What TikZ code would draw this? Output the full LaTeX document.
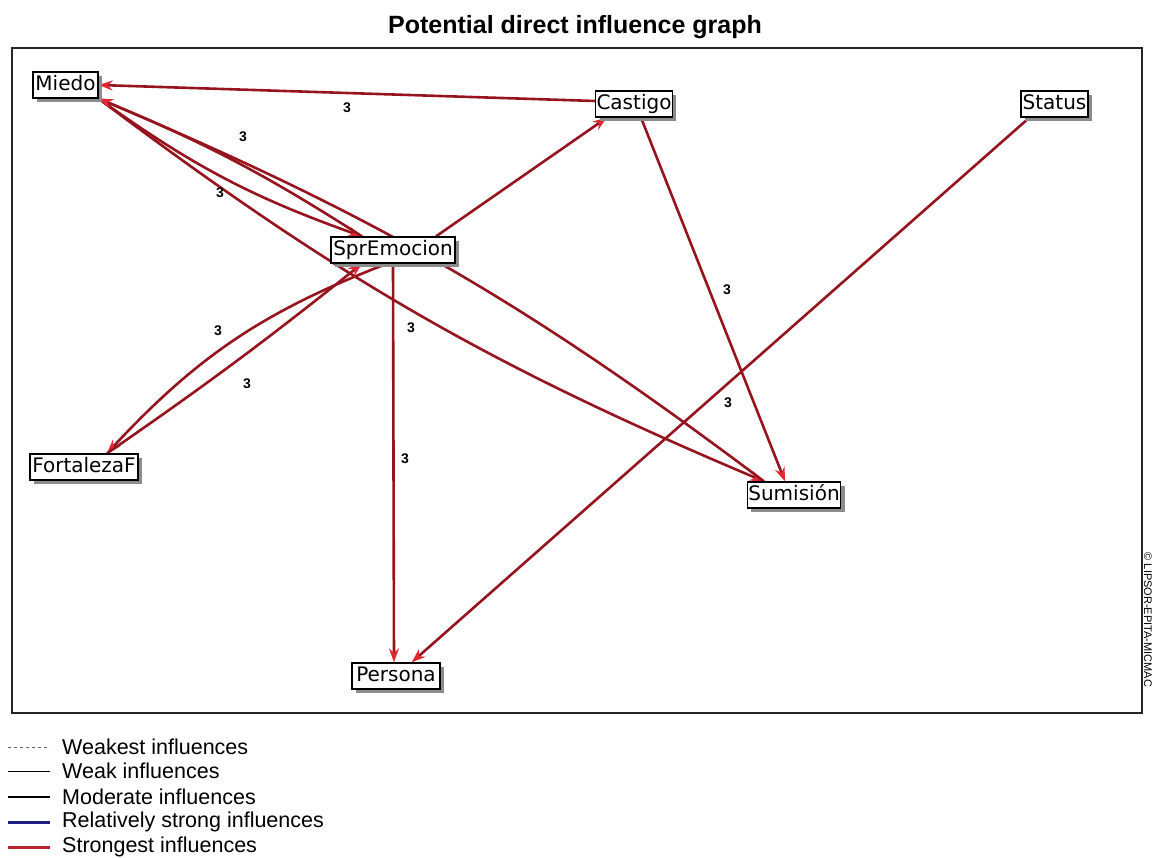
\documentclass[tikz,border=0pt]{standalone}
\usepackage{fontspec}
\setmainfont{Liberation Sans}
\newfontfamily\boxfont{DejaVu Sans}
\usetikzlibrary{arrows.meta,shadows}
\definecolor{edgered}{RGB}{150,20,30}
\definecolor{tipred}{RGB}{225,40,50}
\definecolor{legblue}{RGB}{30,30,130}
\definecolor{legred}{RGB}{185,35,45}
\pgfdeclarelayer{bg}
\pgfsetlayers{bg,main}
\tikzset{
  var/.style={draw=black, line width=1.3pt, fill=white, inner xsep=1pt, inner ysep=3pt,
    minimum height=26pt, font=\boxfont\fontsize{20}{22}\selectfont, text height=15pt, text depth=4.5pt,
    drop shadow={shadow xshift=4pt, shadow yshift=-4pt, fill=black!45, opacity=1}},
  infl/.style={draw=edgered, line width=2.6pt, -{Stealth[length=14pt,width=10pt,color=tipred]}},
  val/.style={font=\bfseries\fontsize{14}{16}\selectfont, inner sep=1pt},
  legtxt/.style={anchor=west, font=\fontsize{21.5}{24}\selectfont, inner sep=0pt},
}
\begin{document}
\begin{tikzpicture}[x=1pt,y=-1pt]
\useasboundingbox (0,0) rectangle (1153,858);
% title and frame
\node[font=\bfseries\fontsize{25}{28}\selectfont] (title) at (575,27) {Potential direct influence graph};
\draw[line width=1.6pt, black!85] (12,48) rectangle (1142,713);
\node[rotate=-90, font=\fontsize{11}{13}\selectfont, inner sep=0pt, text height=8pt, text depth=0pt] (copy) at (1148,620) {© LIPSOR-EPITA-MICMAC};
% variables
\node[var, minimum width=65pt]  (miedo)   at (65.5,85)  {Miedo};
\node[var, minimum width=76pt]  (castigo) at (634,104)  {Castigo};
\node[var, minimum width=67pt]  (status)  at (1054.5,104) {Status};
\node[var, minimum width=124pt] (spr)     at (393,250)  {SprEmocion};
\node[var, minimum width=108pt] (fort)    at (84,467)   {FortalezaF};
\node[var, minimum width=92pt]  (sum)     at (794,495)  {Sumisión};
\node[var, minimum width=88pt]  (persona) at (396,676)  {Persona};
% influences
\begin{pgfonlayer}{bg}
\draw[infl] ([yshift=3pt]castigo.west) -- (miedo.east);
\draw[infl] (miedo.south east) to[bend right=8] ([xshift=-31pt]spr.north);
\draw[infl] ([xshift=-31pt]spr.north) to[bend right=5] (miedo.south east);
\draw[infl] (miedo.south east) to[bend right=7] ([xshift=-30pt]sum.north);
\draw[infl] ([xshift=-30pt]sum.north) to[bend right=7] (miedo.south east);
\draw[infl] ([xshift=7pt]castigo.south) -- ([xshift=-9pt]sum.north);
\draw[infl] ([xshift=43pt]spr.north) -- ([xshift=12pt]castigo.south west);
\draw[infl] ([xshift=9pt]status.south west) -- ([xshift=-29pt]persona.north east);
\draw[infl] (spr.south) -- ([xshift=-2pt]persona.north);
\draw[infl] ([xshift=-6pt]spr.south) to[bend right=13] ([xshift=23pt]fort.north);
\draw[infl] ([xshift=23pt]fort.north) to[bend right=2] ([xshift=-31pt]spr.south);
\end{pgfonlayer}
% values
\node[val] (v1) at (347,108) {3};
\node[val] (v2) at (243,137) {3};
\node[val] (v3) at (220,193) {3};
\node[val] (v4) at (218,331) {3};
\node[val] (v5) at (247,384) {3};
\node[val] (v6) at (411,328) {3};
\node[val] (v7) at (405,459) {3};
\node[val] (v8) at (727,290) {3};
\node[val] (v9) at (728,403) {3};
% legend
\draw[black!60, line width=0.8pt, dash pattern=on 3pt off 3pt] (8,747) -- (50,747);
\draw[black, line width=1pt] (8,771) -- (50,771);
\draw[black, line width=1.5pt] (8,797) -- (50,797);
\draw[legblue, line width=3pt] (8,822) -- (50,822);
\draw[legred, line width=3pt] (8,847) -- (50,847);
\node[legtxt] (leg1) at (62,747) {Weakest influences};
\node[legtxt] (leg2) at (62,771) {Weak influences};
\node[legtxt] (leg3) at (62,797) {Moderate influences};
\node[legtxt] (leg4) at (62,822) {Relatively strong influences};
\node[legtxt] (leg5) at (62,847) {Strongest influences};
\end{tikzpicture}
\end{document}
